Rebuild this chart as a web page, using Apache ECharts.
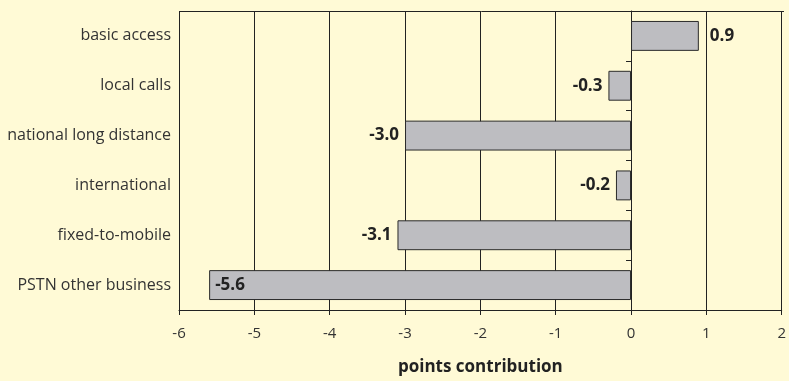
<!DOCTYPE html>
<html>
<head>
<meta charset="utf-8">
<script src="https://cdn.jsdelivr.net/npm/echarts@6/dist/echarts.min.js"></script>
<style>
  html, body { margin: 0; padding: 0; background: #fffad6; }
  #chart { width: 789px; height: 381px; }
</style>
</head>
<body>
<div id="chart"></div>
<script>
// Contribution of each line of business, in percentage points
const categories = ['basic access', 'local calls', 'national long distance', 'international', 'fixed-to-mobile', 'PSTN other business'];
const contributions = [0.9, -0.3, -3.0, -0.2, -3.1, -5.6];
const xTicks = [-6, -5, -4, -3, -2, -1, 0, 1, 2];
const axisTitle = 'points contribution';

const FONT = '"Open Sans", "Noto Sans", sans-serif';
const TEXT = '#333333';

const chart = echarts.init(document.getElementById('chart'));

const barData = contributions.map(function (v, i) {
  // the widest bar carries its label inside; the others sit beyond the bar end
  let label = v >= 0 ? { position: 'right', distance: 11 } : { position: 'left', distance: 6 };
  if (i === contributions.length - 1) label = { position: 'insideLeft', distance: 6 };
  return { value: v, label: label };
});

chart.setOption({
  backgroundColor: '#fffad6',
  animation: false,
  grid: {
    left: 179, right: 5, top: 11, bottom: 68,
    show: true, borderColor: 'transparent', backgroundColor: 'transparent'
  },
  xAxis: {
    type: 'value',
    min: xTicks[0],
    max: xTicks[xTicks.length - 1],
    interval: 1,
    name: axisTitle,
    nameLocation: 'middle',
    nameGap: 49,
    nameTextStyle: { fontFamily: FONT, fontSize: 17, fontWeight: 'bold', color: '#222' },
    axisLine: { show: true, lineStyle: { color: '#222', width: 1 } },
    axisTick: { show: true, length: 5, lineStyle: { color: '#222' } },
    axisLabel: { fontFamily: FONT, fontSize: 15, color: TEXT, margin: 16 },
    splitLine: { show: true, lineStyle: { color: '#222', width: 1 } }
  },
  yAxis: [{
    type: 'category',
    data: categories,
    inverse: true,
    axisLine: { show: true, onZero: true, lineStyle: { color: '#222', width: 1 } },
    axisTick: { show: true, length: 5, lineStyle: { color: '#222' } },
    axisLabel: { show: false }
  }, {
    type: 'category',
    data: categories,
    inverse: true,
    position: 'left',
    axisLine: { show: false },
    axisTick: { show: false },
    axisLabel: { fontFamily: FONT, fontSize: 16, color: TEXT, margin: 8, padding: [0, 0, 4, 0] }
  }],
  series: [{
    type: 'bar',
    data: barData,
    barWidth: '60%',
    itemStyle: { color: '#bdbdc1', borderColor: '#2a2a2a', borderWidth: 1 },
    label: {
      show: true,
      fontFamily: FONT,
      fontSize: 17,
      fontWeight: 'bold',
      color: '#222',
      formatter: function (p) { return p.value.toFixed(1); }
    }
  }],
  graphic: [{
    // top border of the plot frame
    type: 'line',
    shape: { x1: 179, y1: 11.5, x2: 784, y2: 11.5 },
    style: { stroke: '#222', lineWidth: 1 },
    silent: true
  }]
});
</script>
</body>
</html>
